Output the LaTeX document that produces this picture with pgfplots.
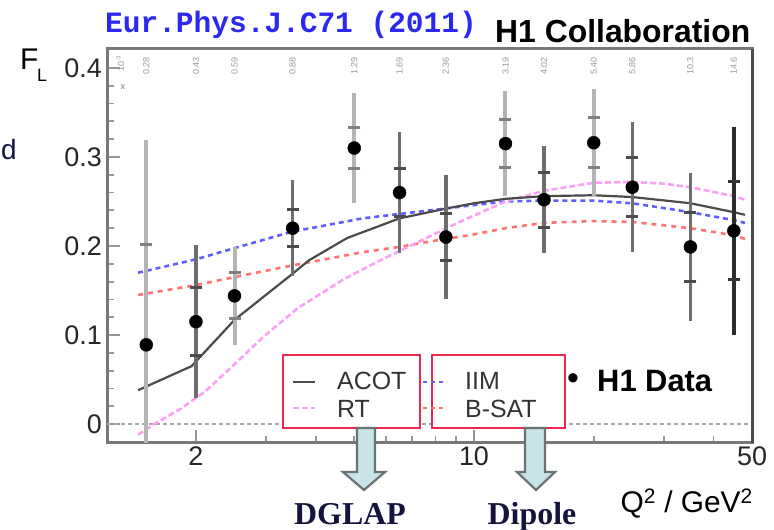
\documentclass[border=0pt]{standalone}
\usepackage{pgfplots}
\pgfplotsset{compat=1.18}
\usepackage{pgfplotstable}
\usepackage{fontspec}
\setmainfont{Liberation Sans}
\newfontfamily\monofont{Liberation Mono}
\newfontfamily\seriffont{Liberation Serif}
\definecolor{titleblue}{RGB}{45,40,240}
\definecolor{legred}{RGB}{235,40,80}
\definecolor{arrowfill}{RGB}{200,228,230}
\definecolor{arrowdraw}{RGB}{105,115,115}
\definecolor{iimblue}{RGB}{95,95,255}
\definecolor{bsatred}{RGB}{255,115,115}
\definecolor{rtpink}{RGB}{250,160,245}
\definecolor{acotgray}{RGB}{75,75,75}
\definecolor{barlight}{RGB}{180,180,180}
\definecolor{bardark}{RGB}{110,110,110}
\definecolor{barblack}{RGB}{45,45,45}
\definecolor{labnavy}{RGB}{20,20,60}
\definecolor{framegray}{RGB}{120,120,120}
\definecolor{tickgray}{RGB}{150,150,150}

\pgfplotstableread{
q2   f     tot    stat
1.5  0.089 0.230  0.113
2.5  0.144 0.055  0.026
5    0.310 0.062  0.023
12   0.315 0.059  0.027
20   0.316 0.060  0.028
}\dataLight
\pgfplotstableread{
q2   f     tot    stat
2    0.115 0.086  0.038
3.5  0.220 0.054  0.021
6.5  0.260 0.068  0.027
8.5  0.210 0.070  0.026
15   0.252 0.060  0.031
25   0.266 0.073  0.033
35   0.199 0.083  0.039
}\dataDark
\pgfplotstableread{
q2   f     tot    stat
45   0.217 0.117  0.055
}\dataBlack

\begin{document}
\begin{tikzpicture}
\path[use as bounding box] (0,0) rectangle (774bp,530bp);
\begin{axis}[
  at={(107bp,87bp)}, anchor=south west,
  scale only axis, width=645bp, height=394bp,
  xmode=log, xmin=1.195, xmax=50,
  ymin=-0.0213, ymax=0.4213,
  axis line style={framegray, line width=3bp},
  xtick={2,10,50}, xticklabels={2,10,50},
  minor xtick={3,4,5,6,7,8,9,20,30,40},
  ytick={0,0.1,0.2,0.3,0.4}, yticklabels={0,0.1,0.2,0.3,0.4},
  minor y tick num=4,
  xtick pos=bottom, ytick pos=left,
  tick align=inside,
  major tick length=13bp, minor tick length=7bp,
  tick style={tickgray, line width=1.8bp},
  /pgf/number format/assume math mode=true,
  ticklabel style={font=\fontsize{27}{27}\selectfont, text=black!85, inner sep=2bp},
  xticklabel style={yshift=-2bp},
  yticklabel style={xshift=-3bp},
]
\addplot[black!35, line width=1.5bp, dash pattern=on 4bp off 3bp] coordinates {(1.195,0) (50,0)};

\addplot[bsatred, line width=2.6bp, dash pattern=on 5bp off 5bp] coordinates {
(1.43,0.145) (2.0,0.156) (2.43,0.164) (3.48,0.178) (5.24,0.193) (6.5,0.199) (7.74,0.205)
(10,0.213) (12,0.220) (15,0.226) (20,0.228) (25,0.227) (35,0.220) (45,0.212) (48,0.208)};
\addplot[iimblue, line width=2.6bp, dash pattern=on 5bp off 4bp] coordinates {
(1.43,0.170) (2.0,0.185) (2.43,0.196) (3.48,0.216) (5.24,0.231) (6.5,0.236) (7.74,0.240)
(10,0.246) (12,0.250) (15,0.251) (20,0.251) (25,0.248) (35,0.238) (45,0.229) (48,0.226)};
\addplot[rtpink, line width=2.6bp, dash pattern=on 6bp off 3bp] coordinates {
(1.43,-0.012) (1.6,0.002) (1.83,0.017) (2.1,0.036) (2.43,0.062) (2.94,0.097) (3.6,0.130)
(4.68,0.162) (5.7,0.182) (7.2,0.204) (9.2,0.227) (12,0.250) (15,0.262) (20,0.271) (25,0.272)
(30,0.270) (35,0.266) (45,0.256) (48,0.252)};
\addplot[acotgray, line width=2.2bp] coordinates {
(1.43,0.038) (1.95,0.065) (2.5,0.117) (3.48,0.168) (3.85,0.184) (4.8,0.209) (6.5,0.231)
(8.5,0.242) (10,0.248) (12,0.253) (15,0.256) (20,0.257) (25,0.255) (35,0.248) (45,0.238) (48,0.235)};

\addplot[only marks, mark=none, error bars/.cd, y dir=both, y explicit, error mark=none,
  error bar style={line width=4bp, color=barlight}] table[x=q2, y=f, y error=tot] {\dataLight};
\addplot[only marks, mark=none, error bars/.cd, y dir=both, y explicit, error mark=none,
  error bar style={line width=3.5bp, color=bardark}] table[x=q2, y=f, y error=tot] {\dataDark};
\addplot[only marks, mark=none, error bars/.cd, y dir=both, y explicit, error mark=none,
  error bar style={line width=3.5bp, color=barblack}] table[x=q2, y=f, y error=tot] {\dataBlack};

\addplot[only marks, mark=-, mark size=6bp, mark options={line width=3bp, draw=black!50}]
  table[x=q2, y expr=\thisrow{f}+\thisrow{stat}] {\dataLight};
\addplot[only marks, mark=-, mark size=6bp, mark options={line width=3bp, draw=black!50}]
  table[x=q2, y expr=\thisrow{f}-\thisrow{stat}] {\dataLight};
\addplot[only marks, mark=-, mark size=6bp, mark options={line width=3bp, draw=black!70}]
  table[x=q2, y expr=\thisrow{f}+\thisrow{stat}] {\dataDark};
\addplot[only marks, mark=-, mark size=6bp, mark options={line width=3bp, draw=black!70}]
  table[x=q2, y expr=\thisrow{f}-\thisrow{stat}] {\dataDark};
\addplot[only marks, mark=-, mark size=6bp, mark options={line width=3bp, draw=black!80}]
  table[x=q2, y expr=\thisrow{f}+\thisrow{stat}] {\dataBlack};
\addplot[only marks, mark=-, mark size=6bp, mark options={line width=3bp, draw=black!80}]
  table[x=q2, y expr=\thisrow{f}-\thisrow{stat}] {\dataBlack};

\addplot[only marks, mark=*, mark size=6.5bp, black] table[x=q2, y=f] {\dataLight};
\addplot[only marks, mark=*, mark size=6.5bp, black] table[x=q2, y=f] {\dataDark};
\addplot[only marks, mark=*, mark size=6.5bp, black] table[x=q2, y=f] {\dataBlack};

\begin{scope}[every node/.style={rotate=90, font=\fontsize{9}{9}\selectfont, text=black!40, inner sep=0pt}]
\node at (axis cs:1.29,0.405) {10\textsuperscript{-3}};
\node at (axis cs:1.5,0.402) {0.28};
\node at (axis cs:2.0,0.402) {0.43};
\node at (axis cs:2.5,0.402) {0.59};
\node at (axis cs:3.5,0.402) {0.88};
\node at (axis cs:5,0.402) {1.29};
\node at (axis cs:6.5,0.402) {1.69};
\node at (axis cs:8.5,0.402) {2.36};
\node at (axis cs:12,0.402) {3.19};
\node at (axis cs:15,0.402) {4.02};
\node at (axis cs:20,0.402) {5.40};
\node at (axis cs:25,0.402) {5.86};
\node at (axis cs:35,0.402) {10.3};
\node at (axis cs:45,0.402) {14.6};
\end{scope}
\node[font=\fontsize{9}{9}\selectfont, text=black!55, inner sep=0pt] at (axis cs:1.31,0.378) {x};
\end{axis}

% darker right border
\draw[black!70, line width=3bp] (752bp,87bp) -- (752bp,481bp);

\draw[legred, line width=2.6bp, fill=white] (283bp,102bp) rectangle (420bp,175bp);
\draw[legred, line width=2.6bp, fill=white] (432bp,102bp) rectangle (565bp,175bp);
\draw[acotgray, line width=2.2bp] (293bp,148bp) -- (315bp,148bp);
\draw[rtpink, line width=2.6bp, dash pattern=on 6bp off 3bp] (293bp,122bp) -- (315bp,122bp);
\draw[iimblue, line width=2.6bp, dash pattern=on 4bp off 4bp] (423bp,148bp) -- (447bp,148bp);
\draw[bsatred, line width=2.6bp, dash pattern=on 4bp off 4bp] (423bp,122bp) -- (447bp,122bp);
\begin{scope}[every node/.style={anchor=base west, inner sep=0pt, font=\fontsize{25}{25}\selectfont, text=black!80}]
\node at (337bp,140bp) {ACOT};
\node at (337bp,112bp) {RT};
\node at (465bp,140bp) {IIM};
\node at (465bp,112bp) {B-SAT};
\end{scope}
\node[inner sep=0pt, font=\fontsize{34}{34}\selectfont] at (573bp,148bp) {\textbullet};
\node[anchor=base west, inner sep=0pt, font=\bfseries\fontsize{31}{31}\selectfont] at (597bp,138bp) {H1 Data};

\draw[arrowdraw, fill=arrowfill, line width=2.2bp, line join=miter]
  (357bp,102bp) -- (375bp,102bp) -- (375bp,58bp) -- (385bp,58bp) -- (364bp,40bp) -- (343bp,58bp) -- (357bp,58bp) -- cycle;
\draw[arrowdraw, fill=arrowfill, line width=2.2bp, line join=miter]
  (525bp,102bp) -- (545bp,102bp) -- (545bp,58bp) -- (555bp,58bp) -- (536bp,40bp) -- (517bp,58bp) -- (525bp,58bp) -- cycle;
\node[anchor=base, inner sep=0pt, text=labnavy, font=\seriffont\bfseries\fontsize{32}{32}\selectfont] at (350bp,6bp) {DGLAP};
\node[anchor=base, inner sep=0pt, text=labnavy, font=\seriffont\bfseries\fontsize{32}{32}\selectfont] at (532bp,6bp) {Dipole};

\node[anchor=base east, inner sep=0pt, font=\fontsize{30}{30}\selectfont] at (753bp,18bp) {Q\textsuperscript{2} / GeV\textsuperscript{2}};
\node[anchor=base west, inner sep=0pt, font=\fontsize{30}{30}\selectfont] at (20bp,460bp) {F};
\node[anchor=base west, inner sep=0pt, font=\fontsize{18}{18}\selectfont] at (37bp,448bp) {L};
\node[anchor=base west, inner sep=0pt, font=\fontsize{28}{28}\selectfont, text=labnavy] at (1bp,370bp) {d};
\node[anchor=base west, inner sep=0pt, text=titleblue, font=\monofont\bfseries\fontsize{29.6}{29.6}\selectfont] at (105bp,497bp) {Eur.Phys.J.C71 (2011)};
\node[anchor=base west, inner sep=0pt, font=\bfseries\fontsize{32}{32}\selectfont] at (495bp,487bp) {H1 Collaboration};
\end{tikzpicture}
\end{document}
